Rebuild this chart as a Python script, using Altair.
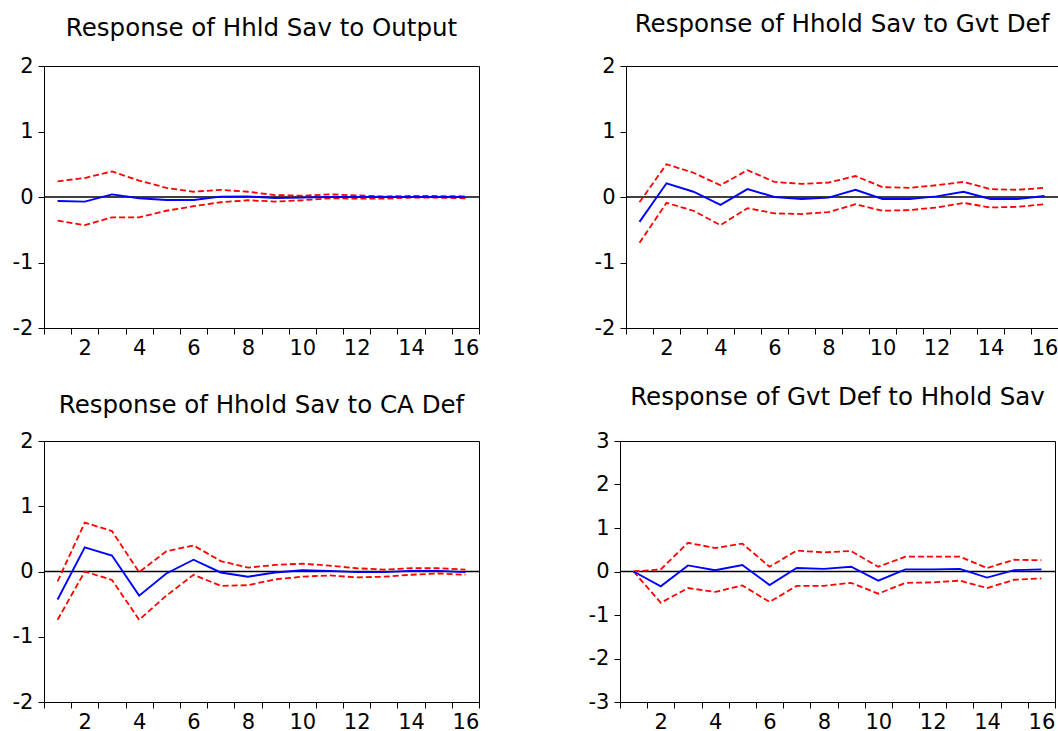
import altair as alt
import pandas as pd

# Impulse responses over a 16-period horizon, with +/- 2 S.E. bands
periods = list(range(1, 17))

# Response of Hhld Sav to Output
sav_output_resp = [-0.06, -0.07, 0.04, -0.02, -0.045, -0.045, 0.005, 0.01,
                   -0.015, -0.01, 0.0, 0.0, 0.0, 0.0, 0.0, 0.0]
sav_output_upper = [0.24, 0.29, 0.39, 0.25, 0.14, 0.08, 0.11, 0.08,
                    0.03, 0.02, 0.04, 0.025, 0.01, 0.015, 0.015, 0.01]
sav_output_lower = [-0.36, -0.43, -0.31, -0.31, -0.21, -0.14, -0.08, -0.05,
                    -0.07, -0.05, -0.02, -0.025, -0.025, -0.01, -0.01, -0.02]

# Response of Hhold Sav to Gvt Def
sav_gvt_resp = [-0.38, 0.21, 0.08, -0.12, 0.12, 0.0, -0.03, -0.01,
                0.11, -0.03, -0.03, 0.01, 0.08, -0.03, -0.03, 0.015]
sav_gvt_upper = [-0.08, 0.50, 0.37, 0.18, 0.41, 0.23, 0.20, 0.22,
                 0.32, 0.15, 0.14, 0.18, 0.23, 0.12, 0.11, 0.14]
sav_gvt_lower = [-0.70, -0.09, -0.21, -0.43, -0.17, -0.25, -0.26, -0.23,
                 -0.11, -0.21, -0.20, -0.16, -0.09, -0.16, -0.15, -0.11]

# Response of Hhold Sav to CA Def
sav_ca_resp = [-0.43, 0.37, 0.245, -0.37, -0.03, 0.18, -0.015, -0.08,
               -0.015, 0.02, 0.01, -0.01, -0.01, 0.01, 0.01, -0.01]
sav_ca_upper = [-0.15, 0.75, 0.62, -0.01, 0.31, 0.40, 0.16, 0.06,
                0.10, 0.12, 0.09, 0.05, 0.03, 0.05, 0.05, 0.03]
sav_ca_lower = [-0.74, 0.0, -0.13, -0.74, -0.37, -0.05, -0.22, -0.21,
                -0.12, -0.08, -0.06, -0.09, -0.08, -0.05, -0.03, -0.05]

# Response of Gvt Def to Hhold Sav
gvt_sav_resp = [0.0, -0.34, 0.14, 0.03, 0.15, -0.31, 0.08, 0.06,
                0.11, -0.21, 0.05, 0.05, 0.06, -0.14, 0.03, 0.05]
gvt_sav_upper = [0.0, 0.05, 0.66, 0.54, 0.64, 0.11, 0.48, 0.44,
                 0.47, 0.11, 0.34, 0.34, 0.34, 0.08, 0.27, 0.26]
gvt_sav_lower = [0.0, -0.72, -0.38, -0.47, -0.32, -0.70, -0.33, -0.33,
                 -0.26, -0.51, -0.26, -0.25, -0.21, -0.38, -0.19, -0.16]

FONT = "DejaVu Sans"

# tick marks sit between periods; each even label hangs half a period left of
# the tick that closes its period
x_ticks = [p - 0.5 for p in periods] + [16.5]


def panel(title, resp, lower, upper, ylim, width, height, title_offset):
    df = pd.DataFrame({"period": periods, "response": resp,
                       "lower": lower, "upper": upper})
    x = alt.X(
        "period:Q",
        title=None,
        scale=alt.Scale(domain=[0.5, 16.5], nice=False, zero=False),
        axis=alt.Axis(
            values=x_ticks,
            labelExpr="datum.value > 1 && (datum.value - 0.5) % 2 == 0 ? format(datum.value - 0.5, 'd') : ''",
            labelOffset=-width / 32,
            labelFlush=False,
            labelOverlap=False,
            tickSize=6,
            labelPadding=3,
        ),
    )
    yscale = alt.Scale(domain=[-ylim, ylim], nice=False, zero=False)
    yaxis = alt.Axis(
        values=list(range(-ylim, ylim + 1)), tickSize=6, labelPadding=5,
        labelExpr="datum.value < 0 ? '-' + (-datum.value) : '' + datum.value",
    )

    zero = alt.Chart(pd.DataFrame({"z": [0]})).mark_rule(
        color="black", strokeWidth=1.3
    ).encode(y=alt.Y("z:Q", scale=yscale, axis=yaxis, title=None))

    bands = alt.Chart(df).transform_fold(
        ["upper", "lower"], as_=["band", "val"]
    ).mark_line(color="#ff0000", strokeWidth=1.8, strokeDash=[6, 3]).encode(
        x=x,
        y=alt.Y("val:Q", scale=yscale, axis=yaxis, title=None),
        detail="band:N",
    )

    line = alt.Chart(df).mark_line(color="#0000ff", strokeWidth=1.9).encode(
        x=x,
        y=alt.Y("response:Q", scale=yscale, axis=yaxis, title=None),
    )

    return alt.layer(zero, bands, line).properties(
        width=width,
        height=height,
        title=alt.TitleParams(
            text=title, font=FONT, fontSize=24.5, fontWeight="normal",
            color="black", offset=title_offset, anchor="middle",
        ),
    )


p1 = panel("Response of Hhld Sav to Output",
           sav_output_resp, sav_output_lower, sav_output_upper, 2, 435, 262, 14)
p2 = panel("Response of Hhold Sav to Gvt Def",
           sav_gvt_resp, sav_gvt_lower, sav_gvt_upper, 2, 432, 262, 18)
p3 = panel("Response of Hhold Sav to CA Def",
           sav_ca_resp, sav_ca_lower, sav_ca_upper, 2, 435, 261, 12)
p4 = panel("Response of Gvt Def to Hhold Sav",
           gvt_sav_resp, gvt_sav_lower, gvt_sav_upper, 3, 435, 261, 20)

top_row = alt.hconcat(p1, p2, spacing=112)
bottom_row = alt.hconcat(p3, p4, spacing=106)

PAGE_W, PAGE_H = 1058, 731
LEFT, TOP = 44, 66

chart = alt.vconcat(top_row, bottom_row, spacing=25).properties(
    autosize=alt.AutoSizeParams(type="none"),
    padding={"left": LEFT, "top": TOP,
             "right": PAGE_W - LEFT, "bottom": PAGE_H - TOP},
    background="white",
).configure_view(
    stroke="black", strokeWidth=1
).configure_axis(
    grid=False,
    domain=False,
    tickColor="black",
    tickWidth=1,
    labelColor="black",
    labelFont=FONT,
    labelFontSize=21,
)

chart.save("out.html", embed_options={"renderer": "svg", "actions": False})
